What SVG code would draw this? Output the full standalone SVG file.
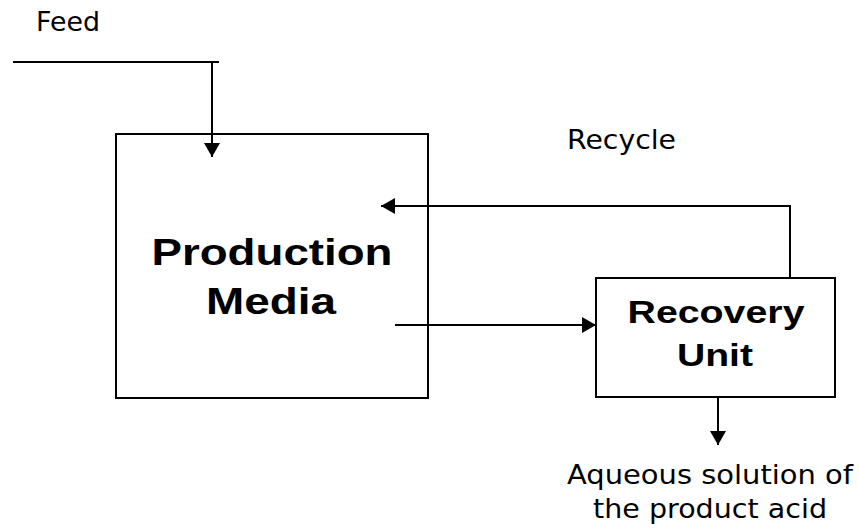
<svg xmlns="http://www.w3.org/2000/svg" width="859" height="529" viewBox="0 0 859 529">
  <style>
    .box { fill: #ffffff; stroke: #000000; stroke-width: 2; }
    .line { fill: none; stroke: #000000; stroke-width: 2; }
    .label { font-family: "DejaVu Sans", Verdana, sans-serif; font-size: 27px; fill: #000000; }
    .title { font-family: "Liberation Sans", Arial, sans-serif; font-weight: bold; fill: #000000; text-anchor: middle; }
  </style>
  <defs>
    <marker id="arrow" viewBox="0 0 14 16" refX="14" refY="8" markerWidth="14" markerHeight="16" markerUnits="userSpaceOnUse" orient="auto">
      <path d="M0,0 L14,8 L0,16 z" fill="#000000"/>
    </marker>
  </defs>
  <rect width="859" height="529" fill="#ffffff"/>

  <g id="production-media">
    <rect class="box" x="116" y="134" width="312" height="264"/>
    <text class="title" font-size="37" x="272" y="265" textLength="241" lengthAdjust="spacingAndGlyphs">Production</text>
    <text class="title" font-size="37" x="271" y="314" textLength="130" lengthAdjust="spacingAndGlyphs">Media</text>
  </g>

  <g id="recovery-unit">
    <rect class="box" x="596" y="278" width="239" height="119"/>
    <text class="title" font-size="32" x="716" y="323" textLength="177" lengthAdjust="spacingAndGlyphs">Recovery</text>
    <text class="title" font-size="32" x="715" y="366" textLength="76" lengthAdjust="spacingAndGlyphs">Unit</text>
  </g>

  <g id="labels">
    <text class="label" x="36" y="31" textLength="64" lengthAdjust="spacingAndGlyphs">Feed</text>
    <text class="label" x="567" y="149" textLength="109" lengthAdjust="spacingAndGlyphs">Recycle</text>
    <text class="label" x="567" y="484" textLength="286" lengthAdjust="spacingAndGlyphs">Aqueous solution of</text>
    <text class="label" x="593" y="518" textLength="234" lengthAdjust="spacingAndGlyphs">the product acid</text>
  </g>

  <g id="connectors">
    <!-- feed line into production media -->
    <path class="line" d="M13,62 H219"/>
    <path class="line" d="M212,62 V157" marker-end="url(#arrow)"/>
    <!-- recycle from recovery unit back to production -->
    <path class="line" d="M790,278 V206 H381" marker-end="url(#arrow)"/>
    <!-- production to recovery -->
    <path class="line" d="M395,325 H596" marker-end="url(#arrow)"/>
    <!-- product outlet -->
    <path class="line" d="M718,397 V445" marker-end="url(#arrow)"/>
  </g>
</svg>
